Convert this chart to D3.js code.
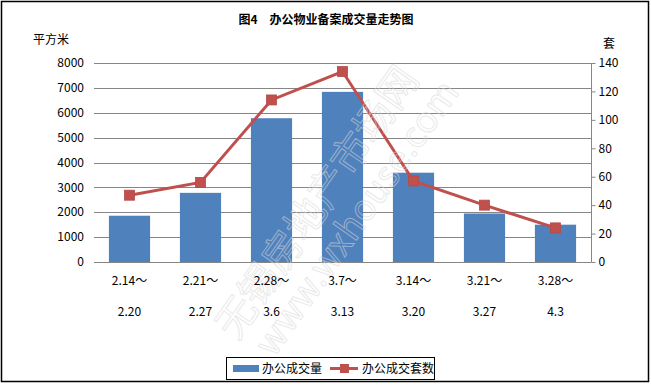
<!DOCTYPE html>
<meta charset="utf-8">
<style>
body { margin: 0; background: #fff; }
svg text { font-family: 'Noto Sans CJK SC', 'DejaVu Sans', sans-serif; fill: #000; }
.grid line { stroke: #868686; stroke-width: 1; shape-rendering: crispEdges; }
.tick-lbl { font-size: 12px; }
</style>
<svg id="svg" width="651" height="385"></svg>
<script src="https://cdn.jsdelivr.net/npm/d3@7"></script>
<script>

// data
const periodStart = ['2.14～', '2.21～', '2.28～', '3.7～', '3.14～', '3.21～', '3.28～'];
const periodEnd = ['2.20', '2.27', '3.6', '3.13', '3.20', '3.27', '4.3'];
const area = [1860, 2780, 5780, 6840, 3590, 1950, 1500];   // 办公成交量 (平方米)
const units = [47, 56, 114, 134, 57, 40, 24];               // 办公成交套数 (套)
const leftTicks = [0, 1000, 2000, 3000, 4000, 5000, 6000, 7000, 8000];
const rightTicks = [0, 20, 40, 60, 80, 100, 120, 140];

const barColor = '#4F81BD';
const lineColor = '#C0504D';

function translate(x, y) {
    return 'translate(' + x + ',' + y + ')';
}

let svg = d3.select('#svg');

// outer frame
svg.append('rect')
    .attr('x', 1.5).attr('y', 1.5)
    .attr('width', 647).attr('height', 380)
    .attr('fill', '#fff')
    .attr('stroke', '#000')
    .attr('stroke-width', 1.5);

let plot = {left: 94, right: 591, top: 63, bottom: 262};

let x = d3.scaleBand()
    .domain(periodStart.map((d, i) => i))
    .range([plot.left, plot.right])
    .paddingInner(0.42)
    .paddingOuter(0.21);

let yL = d3.scaleLinear().domain([0, 8000]).range([plot.bottom, plot.top]);
let yR = d3.scaleLinear().domain([0, 140]).range([plot.bottom, plot.top]);

// gridlines
svg.append('g')
    .attr('class', 'grid')
    .selectAll('line')
    .data(leftTicks)
    .enter().append('line')
    .attr('x1', plot.left)
    .attr('x2', plot.right)
    .attr('y1', d => Math.round(yL(d)) + 0.5)
    .attr('y2', d => Math.round(yL(d)) + 0.5);

// left axis labels
svg.append('g')
    .selectAll('text')
    .data(leftTicks)
    .enter().append('text')
    .attr('class', 'tick-lbl')
    .attr('x', 84)
    .attr('y', d => yL(d))
    .attr('dy', '0.35em')
    .attr('text-anchor', 'end')
    .text(d => d);

// right axis
let rightAxis = d3.axisRight(yR)
    .tickValues(rightTicks)
    .tickSize(4)
    .tickPadding(3);

let ra = svg.append('g')
    .attr('transform', translate(plot.right + 0.5, 0))
    .call(rightAxis);
ra.select('.domain').attr('stroke', '#868686').attr('d', 'M0,' + plot.top + 'V' + (plot.bottom + 0.5));
ra.selectAll('.tick line').attr('stroke', '#868686');
ra.selectAll('.tick text')
    .attr('class', 'tick-lbl')
    .style('font-size', '12px')
    .style('font-family', "'Noto Sans CJK SC', sans-serif");

// bars
svg.append('g')
    .selectAll('rect')
    .data(area)
    .enter().append('rect')
    .attr('x', (d, i) => x(i))
    .attr('width', x.bandwidth())
    .attr('y', d => yL(d))
    .attr('height', d => plot.bottom - yL(d))
    .attr('fill', barColor);

// line
let line = d3.line()
    .x((d, i) => x(i) + x.bandwidth() / 2)
    .y(d => yR(d));

svg.append('path')
    .datum(units)
    .attr('d', line)
    .attr('fill', 'none')
    .attr('stroke', lineColor)
    .attr('stroke-width', 3);

svg.append('g')
    .selectAll('rect')
    .data(units)
    .enter().append('rect')
    .attr('x', (d, i) => x(i) + x.bandwidth() / 2 - 5)
    .attr('y', d => yR(d) - 5)
    .attr('width', 10)
    .attr('height', 10)
    .attr('fill', lineColor)
    .attr('stroke', '#B64A47')
    .attr('stroke-width', 0.8);

// watermark, drawn faintly on top
let wm = svg.append('g')
    .attr('transform', translate(335, 215) + ' rotate(-55)')
    .style('opacity', 0.55);
wm.append('text')
    .attr('x', 0).attr('y', -8)
    .attr('text-anchor', 'middle')
    .style('font-size', '40px')
    .style('fill', 'none')
    .style('stroke', '#d8d8d8')
    .style('stroke-width', 1)
    .text('无锡房地产市场网');
wm.append('text')
    .attr('x', 10).attr('y', 32)
    .attr('text-anchor', 'middle')
    .style('font-size', '36px')
    .style('fill', 'none')
    .style('stroke', '#d8d8d8')
    .style('stroke-width', 1)
    .text('www.wxhouse.com');

// category labels (two rows)
let cats = svg.append('g');
cats.selectAll('.l1')
    .data(periodStart)
    .enter().append('text')
    .attr('class', 'tick-lbl l1')
    .attr('x', (d, i) => x(i) + x.bandwidth() / 2)
    .attr('y', 281)
    .attr('dy', '0.35em')
    .attr('text-anchor', 'middle')
    .text(d => d);
cats.selectAll('.l2')
    .data(periodEnd)
    .enter().append('text')
    .attr('class', 'tick-lbl l2')
    .attr('x', (d, i) => x(i) + x.bandwidth() / 2)
    .attr('y', 312)
    .attr('dy', '0.35em')
    .attr('text-anchor', 'middle')
    .text(d => d);

// titles
svg.append('text')
    .attr('x', 326)
    .attr('y', 20)
    .attr('dy', '0.35em')
    .attr('text-anchor', 'middle')
    .style('font-size', '12px')
    .style('font-weight', 'bold')
    .text('图4　办公物业备案成交量走势图');

svg.append('text')
    .attr('x', 33)
    .attr('y', 40)
    .attr('dy', '0.35em')
    .style('font-size', '12px')
    .text('平方米');

svg.append('text')
    .attr('x', 603)
    .attr('y', 44)
    .attr('dy', '0.35em')
    .style('font-size', '12px')
    .text('套');

// legend
let legend = svg.append('g').attr('transform', translate(226, 357));
legend.append('rect')
    .attr('x', 0.5).attr('y', 0.5)
    .attr('width', 208).attr('height', 22)
    .attr('fill', '#fff')
    .attr('stroke', '#000')
    .attr('stroke-width', 1);
legend.append('rect')
    .attr('x', 7).attr('y', 8)
    .attr('width', 26).attr('height', 7)
    .attr('fill', barColor);
legend.append('text')
    .attr('x', 36).attr('y', 11.5)
    .attr('dy', '0.35em')
    .style('font-size', '12px')
    .text('办公成交量');
legend.append('line')
    .attr('x1', 104).attr('x2', 132)
    .attr('y1', 11.5).attr('y2', 11.5)
    .attr('stroke', lineColor)
    .attr('stroke-width', 3);
legend.append('rect')
    .attr('x', 114).attr('y', 7)
    .attr('width', 9).attr('height', 9)
    .attr('fill', lineColor);
legend.append('text')
    .attr('x', 136).attr('y', 11.5)
    .attr('dy', '0.35em')
    .style('font-size', '12px')
    .text('办公成交套数');

</script>
